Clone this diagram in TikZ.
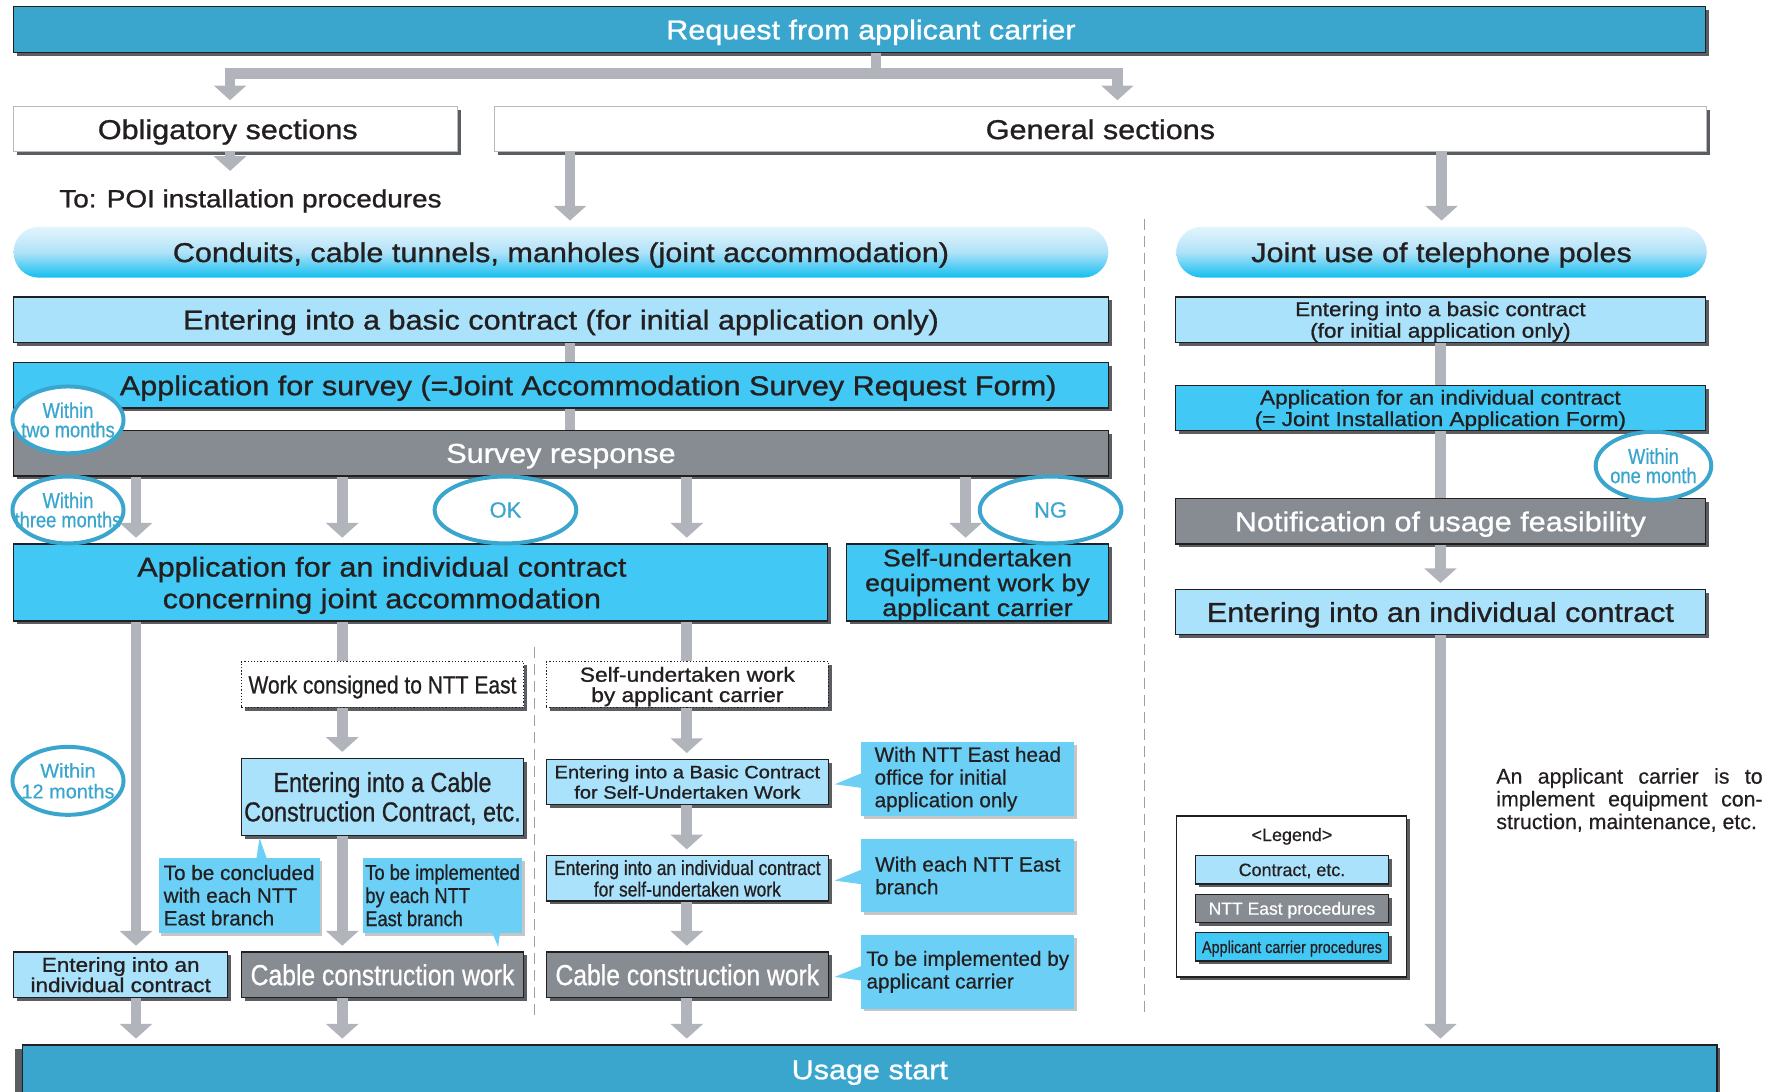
\documentclass[tikz,border=0pt]{standalone}
\usepackage{fontspec}
\setmainfont[FakeBold=0.5]{Liberation Sans}
\newfontfamily\widesf[FakeStretch=1.12,FakeBold=1.0]{Liberation Sans}
\newfontfamily\narrowsf[FakeStretch=0.85,FakeBold=0.7]{Liberation Sans}
\usepackage{tikz}
\usetikzlibrary{arrows.meta,shapes.geometric,shadows}
\definecolor{bannerblue}{HTML}{3AA6CE}
\definecolor{cyanfill}{HTML}{42C8F4}
\definecolor{pale}{HTML}{A9E2FA}
\definecolor{nttgray}{HTML}{878C93}
\definecolor{pipegray}{HTML}{B1B5BB}
\definecolor{notecyan}{HTML}{6BCFF6}
\definecolor{pilltop}{HTML}{E4F5FD}
\definecolor{pillmid}{HTML}{B0E2F8}
\definecolor{pillbot}{HTML}{12BEF0}
\definecolor{ringblue}{HTML}{3AA6CE}
\definecolor{ink}{HTML}{231F20}
\definecolor{shade}{HTML}{5A5D62}

\begin{document}
\begin{tikzpicture}[
  font=\widesf\fontsize{13.7}{15.9}\selectfont, text=ink,
  box/.style={draw=ink, line width=0.6pt, inner sep=0pt, align=center, text depth=0pt,
              drop shadow={shadow xshift=0.06cm, shadow yshift=-0.06cm,
                           fill=shade, opacity=1}},
  contract/.style={box, fill=pale},
  carrier/.style={box, fill=cyanfill},
  ntt/.style={box, fill=nttgray, text=white},
  banner/.style={box, fill=bannerblue, text=white},
  section/.style={box, draw=gray!55, fill=white},
  workbox/.style={box, densely dotted, fill=white},
  pill/.style={rounded corners=0.45cm, inner sep=0pt, minimum height=0.9cm, text depth=0pt,
               top color=pilltop, bottom color=pillbot, middle color=pillmid},
  ring/.style={ellipse, draw=ringblue, line width=2pt, fill=white, inner sep=0pt,
               minimum width=1.96cm, minimum height=1.18cm},
  ringtext/.style={text=ringblue, align=center, inner sep=0pt,
                   font=\narrowsf\fontsize{10.8}{9.7}\selectfont},
  flow/.style={draw=pipegray, line width=0.19cm, shorten >=0.1cm,
               -{Triangle[width=0.56cm,length=0.26cm]}},
  pipe/.style={draw=pipegray, line width=0.19cm},
  callout/.style={fill=notecyan, inner sep=0pt, align=left,
                  font=\fontsize{10.4}{11.4}\selectfont,
                  drop shadow={shadow xshift=0.05cm, shadow yshift=-0.05cm,
                               fill=gray!45, opacity=1}},
  divider/.style={draw=gray!75, line width=0.5pt, dash pattern=on 0.2cm off 0.1cm},
]
  \useasboundingbox (0,0) rectangle (31.36,-19.26);

  % request and the two kinds of sections
  \node[banner, minimum width=29.86cm, minimum height=0.8cm] (req) at (15.17,-0.52)
    {\hspace*{0.4cm}Request from applicant carrier};
  \node[section, minimum width=7.84cm, minimum height=0.8cm] (oblig) at (4.16,-2.28)
    {Obligatory sections\hspace*{0.28cm}};
  \node[section, minimum width=21.4cm, minimum height=0.8cm] (general) at (19.42,-2.28)
    {General sections};
  \node[font=\widesf\fontsize{12.5}{14}\selectfont, text depth=0pt] (poi) at (4.42,-3.5)
    {To: POI installation procedures};

  \node[pill, minimum width=19.32cm] (ducts) at (9.9,-4.45)
    {Conduits, cable tunnels, manholes (joint accommodation)};
  \node[pill, minimum width=9.36cm] (poles) at (25.44,-4.45)
    {Joint use of telephone poles};

  % conduits, cable tunnels, manholes
  \node[contract, minimum width=19.32cm, minimum height=0.8cm] (basic) at (9.9,-5.64)
    {Entering into a basic contract (for initial application only)};
  \node[carrier, minimum width=19.32cm, minimum height=0.8cm] (survey) at (9.9,-6.8)
    {\hspace*{0.96cm}Application for survey (=Joint Accommodation Survey Request Form)};
  \node[ntt, minimum width=19.32cm, minimum height=0.8cm] (reply) at (9.9,-8.0)
    {Survey response};
  \node[carrier, minimum width=14.36cm, minimum height=1.36cm] (indiv) at (7.42,-10.28)
    {Application for an individual contract\hspace*{1.36cm}\\
     concerning joint accommodation\hspace*{1.36cm}};
  \node[carrier, minimum width=4.62cm, minimum height=1.36cm,
        font=\widesf\fontsize{12}{12.5}\selectfont] (selfeq) at (17.25,-10.28)
    {Self-undertaken\\equipment work by\\applicant carrier};

  \node[workbox, minimum width=4.98cm, minimum height=0.8cm,
        font=\narrowsf\fontsize{12.4}{14}\selectfont] (consign) at (6.75,-12.08)
    {Work consigned to NTT East};
  \node[workbox, minimum width=4.98cm, minimum height=0.8cm,
        font=\widesf\fontsize{10.2}{10.2}\selectfont] (selfw) at (12.13,-12.08)
    {Self-undertaken work\\by applicant carrier};
  \node[contract, minimum width=4.98cm, minimum height=1.36cm,
        font=\narrowsf\fontsize{13.8}{14.8}\selectfont] (cabcon) at (6.75,-14.06)
    {Entering into a Cable\\Construction Contract, etc.};
  \node[contract, minimum width=4.98cm, minimum height=0.8cm,
        font=\widesf\fontsize{9}{10.2}\selectfont] (basicS) at (12.13,-13.8)
    {Entering into a Basic Contract\\for Self-Undertaken Work};
  \node[contract, minimum width=4.98cm, minimum height=0.8cm,
        font=\narrowsf\fontsize{10.3}{10.8}\selectfont] (indivS) at (12.13,-15.5)
    {Entering into an individual contract\\for self-undertaken work};
  \node[ntt, minimum width=4.98cm, minimum height=0.8cm,
        font=\narrowsf\fontsize{14.6}{16}\selectfont] (workL) at (6.75,-17.2)
    {Cable construction work};
  \node[ntt, minimum width=4.98cm, minimum height=0.8cm,
        font=\narrowsf\fontsize{14.6}{16}\selectfont] (workR) at (12.13,-17.2)
    {Cable construction work};
  \node[contract, minimum width=3.78cm, minimum height=0.8cm,
        font=\widesf\fontsize{10.1}{10.2}\selectfont] (indivL) at (2.13,-17.2)
    {Entering into an\\individual contract};

  \node[banner, minimum width=29.9cm, minimum height=0.88cm,
        drop shadow={shadow xshift=-0.14cm, shadow yshift=-0.08cm, fill=shade, opacity=1}]
    (usage) at (15.35,-18.88) {Usage start};

  % telephone poles
  \node[contract, minimum width=9.36cm, minimum height=0.8cm,
        font=\widesf\fontsize{10.1}{10.8}\selectfont] (basicR) at (25.42,-5.64)
    {Entering into a basic contract\\(for initial application only)};
  \node[carrier, minimum width=9.36cm, minimum height=0.8cm,
        font=\widesf\fontsize{10.1}{10.8}\selectfont] (applR) at (25.42,-7.2)
    {Application for an individual contract\\(= Joint Installation Application Form)};
  \node[ntt, minimum width=9.36cm, minimum height=0.8cm] (notice) at (25.42,-9.2)
    {Notification of usage feasibility};
  \node[contract, minimum width=9.36cm, minimum height=0.8cm] (indivR) at (25.42,-10.8)
    {Entering into an individual contract};

  % dividers
  \draw[divider] (20.2,-3.86) -- (20.2,-17.86);
  \draw[divider] (9.44,-11.42) -- (9.44,-17.92);

  % connectors
  \coordinate (fork) at (15.46,-1.3);
  \coordinate (colA) at (2.4,0);
  \coordinate (colB) at (6.04,0);
  \coordinate (colC) at (12.12,0);
  \coordinate (colD) at (17.04,0);
  \coordinate (colE) at (10.06,0);

  \draw[pipe] (req.south -| fork) -- (fork);
  \draw[flow] (fork) -| ([xshift=-0.1cm]oblig.north);
  \draw[flow] (fork) -| ([xshift=0.3cm]general.north);
  \draw[flow] ([xshift=-0.1cm]oblig.south) -- ([xshift=-0.1cm,yshift=0.1cm]oblig.south |- poi.north);
  \draw[flow] (general.south -| colE) -- (ducts.north -| colE);
  \draw[flow] (general.south -| poles.north) -- (poles.north);

  \draw[pipe] (basic.south -| colE) -- (survey.north -| colE);
  \draw[pipe] (survey.south -| colE) -- (reply.north -| colE);
  \draw[flow] (reply.south -| colA) -- (indiv.north -| colA);
  \draw[flow] (reply.south -| colB) -- (indiv.north -| colB);
  \draw[flow] (reply.south -| colC) -- (indiv.north -| colC);
  \draw[flow] (reply.south -| colD) -- (selfeq.north -| colD);

  \draw[flow] (indiv.south -| colA) -- (indivL.north -| colA);
  \draw[pipe] (indiv.south -| colB) -- (consign.north -| colB);
  \draw[pipe] (indiv.south -| colC) -- (selfw.north -| colC);
  \draw[flow] (consign.south -| colB) -- (cabcon.north -| colB);
  \draw[flow] (cabcon.south -| colB) -- (workL.north -| colB);
  \draw[flow] (selfw.south -| colC) -- (basicS.north -| colC);
  \draw[flow] (basicS.south -| colC) -- (indivS.north -| colC);
  \draw[flow] (indivS.south -| colC) -- (workR.north -| colC);
  \draw[flow] (indivL.south -| colA) -- (usage.north -| colA);
  \draw[flow] (workL.south -| colB) -- (usage.north -| colB);
  \draw[flow] (workR.south -| colC) -- (usage.north -| colC);

  \draw[pipe] (basicR.south) -- (applR.north);
  \draw[pipe] (applR.south) -- (notice.north);
  \draw[flow] (notice.south) -- (indivR.north);
  \draw[flow] (indivR.south) -- (usage.north -| indivR.south);

  % time limits and outcomes
  \node[ring, label={[ringtext]center:{Within\\two months}}] (twoM) at (1.2,-7.41) {};
  \node[ring, label={[ringtext]center:{Within\\three months}}] (threeM) at (1.2,-9.0) {};
  \node[ring, minimum width=2.04cm, minimum height=1.2cm,
        label={[ringtext]center:{Within\\one month}}] (oneM) at (29.18,-8.22) {};
  \node[ring, minimum width=1.96cm, minimum height=1.2cm,
        label={[ringtext, font=\fontsize{10}{10.4}\selectfont]center:{Within\\12 months}}]
    (yearM) at (1.2,-13.78) {};
  \node[ring, minimum width=2.5cm,
        label={[ringtext, font=\fontsize{11}{12}\selectfont]center:OK}] (okRing) at (8.92,-9.0) {};
  \node[ring, minimum width=2.5cm,
        label={[ringtext, font=\fontsize{11}{12}\selectfont]center:NG}] (ngRing) at (18.54,-9.0) {};

  % notes beside the steps
  \node[callout, minimum width=3.76cm, minimum height=1.3cm] (headNote) at (17.08,-13.75)
    {With NTT East head\\office for initial\\application only};
  \node[callout, minimum width=3.76cm, minimum height=1.3cm] (branchNote) at (17.08,-15.45)
    {With each NTT East\\branch};
  \node[callout, minimum width=3.76cm, minimum height=1.3cm] (selfNote) at (17.08,-17.15)
    {To be implemented by\\applicant carrier};
  \node[callout, minimum width=2.84cm, minimum height=1.32cm] (concludeNote) at (4.22,-15.8)
    {To be concluded\\with each NTT\\East branch};
  \node[callout, minimum width=2.82cm, minimum height=1.32cm,
        font=\narrowsf\fontsize{10.8}{11.6}\selectfont] (implNote) at (7.81,-15.8)
    {To be implemented\\by each NTT\\East branch};

  \fill[notecyan] ([xshift=0.05cm,yshift=0.12cm]headNote.west) -- ([xshift=0.1cm,yshift=-0.04cm]basicS.east)
    -- ([xshift=0.05cm,yshift=-0.16cm]headNote.west) -- cycle;
  \fill[notecyan] ([xshift=0.05cm,yshift=0.12cm]branchNote.west) -- ([xshift=0.1cm,yshift=-0.04cm]indivS.east)
    -- ([xshift=0.05cm,yshift=-0.16cm]branchNote.west) -- cycle;
  \fill[notecyan] ([xshift=0.05cm,yshift=0.12cm]selfNote.west) -- ([xshift=0.1cm,yshift=-0.04cm]workR.east)
    -- ([xshift=0.05cm,yshift=-0.16cm]selfNote.west) -- cycle;
  \fill[notecyan] ([xshift=0.3cm,yshift=-0.05cm]concludeNote.north)
    -- ([xshift=0.36cm,yshift=-0.04cm]concludeNote.north |- cabcon.south)
    -- ([xshift=0.5cm,yshift=-0.05cm]concludeNote.north) -- cycle;
  \fill[notecyan] ([xshift=0.86cm,yshift=0.05cm]implNote.south)
    -- ([xshift=0.98cm,yshift=0.08cm]implNote.south |- workL.north)
    -- ([xshift=1.02cm,yshift=0.05cm]implNote.south) -- cycle;

  % legend
  \node[box, fill=white, minimum width=4.06cm, minimum height=2.84cm] (legend) at (22.79,-15.82) {};
  \node[font=\fontsize{9}{10}\selectfont] (legendTitle) at (22.8,-14.76) {\textless Legend\textgreater};
  \node[contract, minimum width=3.4cm, minimum height=0.5cm, font=\fontsize{9}{10}\selectfont]
    (keyContract) at (22.8,-15.35) {Contract, etc.};
  \node[ntt, minimum width=3.4cm, minimum height=0.5cm, font=\fontsize{8.8}{10}\selectfont]
    (keyNtt) at (22.8,-16.03) {NTT East procedures};
  \node[carrier, minimum width=3.4cm, minimum height=0.5cm, font=\narrowsf\fontsize{8.5}{10}\selectfont]
    (keyCarrier) at (22.8,-16.71) {Applicant carrier procedures};

  \node[anchor=north west, inner sep=0pt, align=left, font=\fontsize{10.7}{11.4}\selectfont]
    (remark) at (26.4,-13.55)
    {\makebox[4.7cm][s]{An applicant carrier is to}\\
     \makebox[4.7cm][s]{implement equipment con-}\\
     struction, maintenance, etc.};
\end{tikzpicture}
\end{document}
